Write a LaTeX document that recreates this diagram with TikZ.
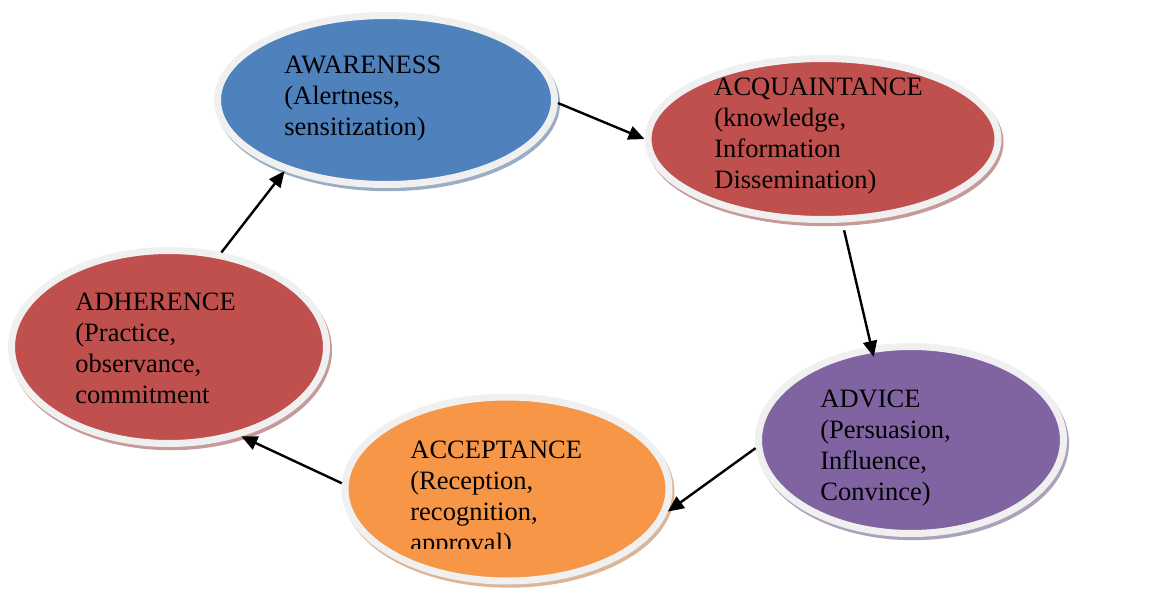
\documentclass[tikz,border=0pt]{standalone}
\usepackage{fontspec}
\setmainfont{Liberation Serif}
\usetikzlibrary{shapes.geometric,arrows.meta,calc,shadows}

\definecolor{awareblue}{HTML}{4F81BD}
\definecolor{stepred}{HTML}{C0504D}
\definecolor{advpurple}{HTML}{8064A2}
\definecolor{accorange}{HTML}{F79646}
\definecolor{rimgray}{HTML}{F0F0F0}

\tikzset{
  % stage bubble: coloured ellipse, light rim, tinted shadow
  bubble/.style={ellipse, fill=#1, draw=rimgray, line width=3.5pt, inner sep=0pt,
                 drop shadow={shadow xshift=1pt, shadow yshift=-1.6pt,
                              fill=#1!60!gray!65!white, draw=#1!60!gray!65!white,
                              line width=3.5pt, opacity=1}},
  % stage text, left aligned, set from its top left corner
  stagetxt/.style={anchor=north west, align=left, inner sep=0pt,
                   font=\fontsize{13.25pt}{15.5pt}\selectfont},
  % arrows
  flowarr/.style={-{Triangle[length=8pt,width=7pt]}, line width=1.2pt}
}

\begin{document}
\begin{tikzpicture}[x=0.5pt, y=-0.5pt]
\useasboundingbox (0,0) rectangle (1168,589);

% ============== STAGES ==============
\node[bubble=awareblue, minimum width=168.5pt, minimum height=84.5pt] (aware) at (386,100) {};
\node[bubble=stepred, minimum width=175pt, minimum height=80.5pt] (acq) at (823,139) {};
\node[bubble=advpurple, minimum width=152.5pt, minimum height=93.5pt] (advice) at (911,440) {};
\node[bubble=accorange, minimum width=162pt, minimum height=92pt] (accept) at (507,489) {};
\node[bubble=stepred, minimum width=157.5pt, minimum height=96.5pt] (adh) at (169,347) {};

% ============== TEXTS ==============
\node[stagetxt] (awaretxt) at ($(aware.center)+(-102,-44.5)$)
  {AWARENESS\\(Alertness,\\sensitization)};
\node[stagetxt] (acqtxt) at ($(acq.center)+(-109,-61.5)$)
  {ACQUAINTANCE\\(knowledge,\\Information\\Dissemination)};
\node[stagetxt] (advicetxt) at ($(advice.center)+(-91,-50.5)$)
  {ADVICE\\(Persuasion,\\Influence,\\Convince)};
\begin{scope}
  \clip ($(accept.center)+(-170,-100)$) rectangle ($(accept.center)+(170,59)$);
  \node[stagetxt] (accepttxt) at ($(accept.center)+(-97,-48.5)$)
    {ACCEPTANCE\\(Reception,\\recognition,\\approval)};
\end{scope}
\node[stagetxt] (adhtxt) at ($(adh.center)+(-94,-54.5)$)
  {ADHERENCE\\(Practice,\\observance,\\commitment};

% ============== CYCLE ==============
\draw[flowarr] (aware.-1) -- (acq.180);
\draw[flowarr, shorten <=4pt, shorten >=-5.5pt] (acq.-77.7) -- (advice.113.4);
\draw[flowarr] (advice.183.4) -- (accept.-8.5);
\draw[flowarr] (accept.178.5) -- (adh.-51.3);
\draw[flowarr] (adh.61.9) -- (aware.215.3);

\end{tikzpicture}
\end{document}
